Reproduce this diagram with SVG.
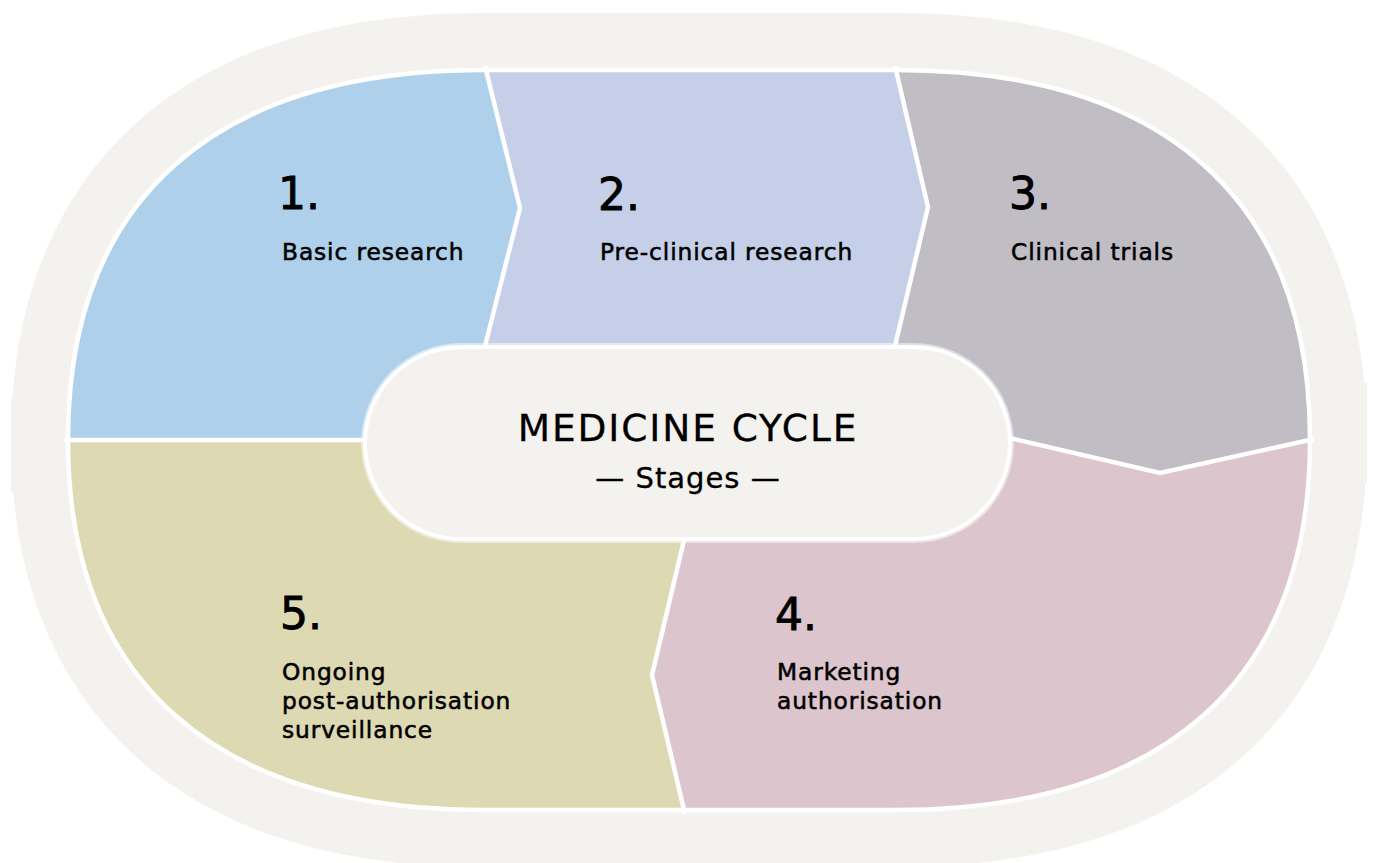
<svg xmlns="http://www.w3.org/2000/svg" width="1377" height="863" viewBox="0 0 1377 863">
<style>
.num{font-family:"DejaVu Sans",sans-serif;font-size:44px;fill:#000;stroke:#000;stroke-width:0.9px}
.lbl{font-family:"DejaVu Sans",sans-serif;font-size:23.3px;letter-spacing:0.9px;fill:#000;stroke:#000;stroke-width:0.55px}
.title{font-family:"DejaVu Sans",sans-serif;font-size:37.5px;letter-spacing:1.9px;fill:#000;stroke:#000;stroke-width:0.3px;text-anchor:middle}
.sub{font-family:"DejaVu Sans",sans-serif;font-size:29px;letter-spacing:1px;fill:#000;stroke:#000;stroke-width:0.35px;text-anchor:middle}
.div{fill:none;stroke:#fff;stroke-width:4.5;stroke-linejoin:miter}
</style>
<defs>
<path id="inner" d="M68,440 C68,200 214,70 484,70 L895,70 C1165,70 1310,200 1310,440 C1310,680 1165,810 895,810 L484,810 C214,810 68,680 68,440 Z"/>
<clipPath id="innerClip"><use href="#inner"/></clipPath>
</defs>
<rect width="1377" height="863" fill="#fff"/>
<g id="background">
<use href="#inner" fill="#F4F2EE" stroke="#F4F2EE" stroke-width="114"/>
<rect x="11" y="398" width="70" height="94" fill="#F4F2EE"/>
<rect x="1297" y="383" width="70" height="100" fill="#F4F2EE"/>
</g>
<g clip-path="url(#innerClip)">
<g id="stage1">
<path d="M0,0 H485 V70 L520,208 L485,343 V440 H0 Z" fill="#AFD0EA"/>
</g>
<g id="stage2">
<path d="M485,0 H895 V70 L928,207 L895,343 V440 H485 V343 L520,208 L485,70 Z" fill="#C5D0E8"/>
</g>
<g id="stage3">
<path d="M895,0 H1377 V440 H1310 L1160,473 L1010,437 H895 V343 L928,207 L895,70 Z" fill="#C0BDC5"/>
</g>
<g id="stage4">
<path d="M1377,440 V863 H685 V810 L652,675 L685,540 V437 H1010 L1160,473 L1310,440 Z" fill="#DCC5CC"/>
</g>
<g id="stage5">
<path d="M0,440 H685 V540 L652,675 L685,810 V863 H0 Z" fill="#DDD9B3"/>
</g>
</g>
<g id="dividers">
<polyline class="div" points="485,66 520,208 485,346"/>
<polyline class="div" points="895,66 928,207 895,346"/>
<polyline class="div" points="1005,437 1160,473 1314,439"/>
<polyline class="div" points="685,536 652,675 685,814"/>
<line class="div" x1="64" y1="440" x2="366" y2="440"/>
<use href="#inner" class="div"/>
</g>
<g id="center">
<rect x="365" y="347" width="645" height="192" rx="96" fill="none" stroke="#fff" stroke-opacity="0.5" stroke-width="8"/>
<rect x="365" y="347" width="645" height="192" rx="96" fill="#F4F2EE" stroke="#fff" stroke-width="4"/>
<text class="title" x="688" y="441">MEDICINE CYCLE</text>
<text class="sub" x="688" y="488">— Stages —</text>
</g>
<g id="labels1">
<text class="num" x="278" y="209">1.</text>
<text class="lbl" x="282" y="260">Basic research</text>
</g>
<g id="labels2">
<text class="num" x="598" y="210">2.</text>
<text class="lbl" x="600" y="260">Pre-clinical research</text>
</g>
<g id="labels3">
<text class="num" x="1009" y="209">3.</text>
<text class="lbl" x="1011" y="260">Clinical trials</text>
</g>
<g id="labels4">
<text class="num" x="775" y="630">4.</text>
<text class="lbl" x="777" y="680">Marketing</text>
<text class="lbl" x="777" y="709">authorisation</text>
</g>
<g id="labels5">
<text class="num" x="280" y="629">5.</text>
<text class="lbl" x="282" y="680">Ongoing</text>
<text class="lbl" x="282" y="709">post-authorisation</text>
<text class="lbl" x="282" y="738">surveillance</text>
</g>
</svg>
